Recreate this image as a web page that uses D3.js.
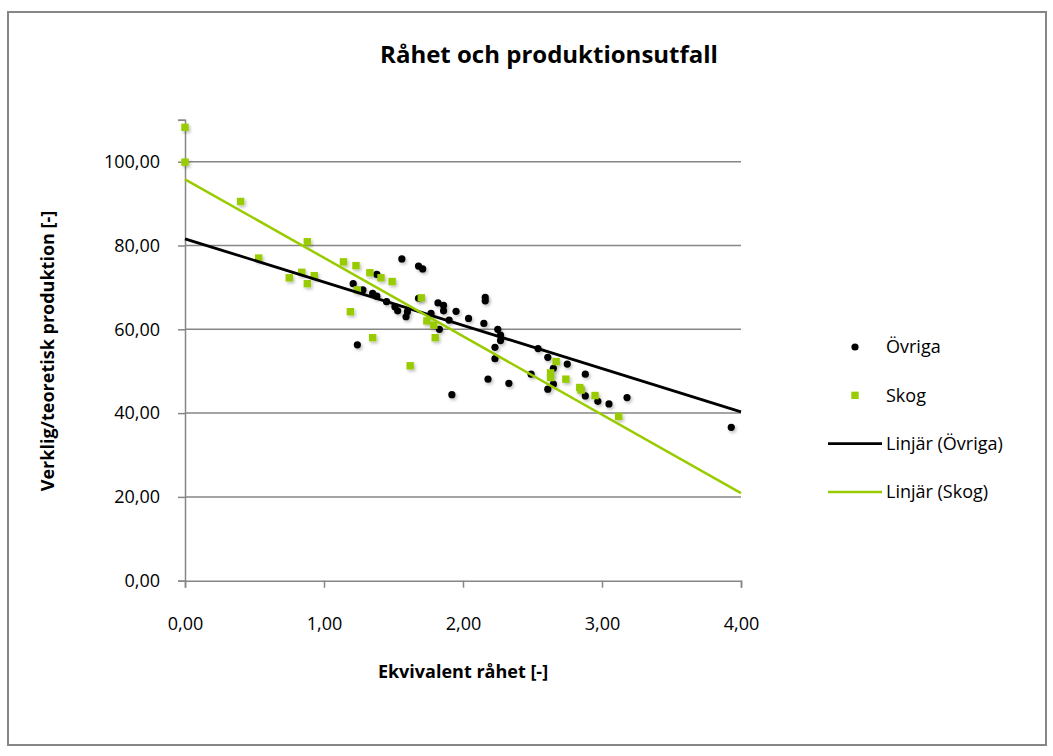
<!DOCTYPE html>
<html>
<head>
<meta charset="utf-8">
<script src="https://cdn.jsdelivr.net/npm/d3@7"></script>
<style>
  body { margin: 0; background: #fff; }
  text { font-family: "Open Sans", sans-serif; fill: #000; }
</style>
</head>
<body>
<div class="chart"></div>
<script>
// Skog (green squares)
var skogX = [0.00, 0.00, 0.40, 0.88, 0.53, 0.75, 0.84, 0.88, 0.93, 1.14, 1.23, 1.33, 1.41, 1.49, 1.24,
             1.19, 1.35, 1.70, 1.74, 1.79, 1.80, 1.62, 2.67, 2.63, 2.63, 2.74, 2.84, 2.85, 2.95, 3.12];
var skogY = [108.2, 99.9, 90.5, 80.9, 77.0, 72.3, 73.6, 70.9, 72.8, 76.1, 75.2, 73.5, 72.3, 71.4, 69.4,
             64.2, 58.0, 67.5, 62.0, 61.0, 58.0, 51.3, 52.3, 49.6, 48.5, 48.1, 46.1, 45.5, 44.2, 39.2];

// Övriga (black dots)
var ovrigaX = [1.21, 1.28, 1.35, 1.38, 1.45, 1.51, 1.53, 1.59, 1.60, 1.68, 1.56, 1.68, 1.71, 1.38, 1.24,
               1.82, 1.86, 1.86, 1.77, 1.95, 2.04, 1.90, 1.83, 2.15, 2.16, 2.16, 2.25, 2.27, 2.27, 2.23,
               2.23, 2.18, 2.33, 1.92, 2.49, 2.54, 2.61, 2.75, 2.65, 2.61, 2.65, 2.88, 2.88, 2.97, 3.05,
               3.18, 3.93];
var ovrigaY = [70.9, 69.4, 68.6, 67.9, 66.6, 65.4, 64.4, 63.0, 64.2, 67.4, 76.8, 75.1, 74.4, 73.1, 56.3,
               66.3, 65.7, 64.4, 63.8, 64.3, 62.6, 62.2, 60.0, 61.4, 67.6, 66.8, 60.0, 58.6, 57.3, 55.7,
               53.0, 48.1, 47.1, 44.4, 49.3, 55.4, 53.3, 51.7, 50.7, 45.7, 46.9, 49.3, 44.1, 42.8, 42.2,
               43.7, 36.6];

// linear trend lines, at x = 0 and x = 4
var trendX = [0, 4];
var trendOvriga = [81.6, 40.3];
var trendSkog = [95.8, 20.9];

var xTicks = [0, 1, 2, 3, 4];
var yTicks = [0, 20, 40, 60, 80, 100];
var legendLabels = ["Övriga", "Skog", "Linjär (Övriga)", "Linjär (Skog)"];

var green = "#99cc00";
var grid = "#868686";

var W = 1053, H = 756;
var svg = d3.select(".chart").append("svg")
    .attr("width", W).attr("height", H);

var defs = svg.append("defs");
var f = defs.append("filter").attr("id", "shadow")
    .attr("x", "-100%").attr("y", "-100%").attr("width", "300%").attr("height", "300%");
f.append("feDropShadow").attr("dx", 1.5).attr("dy", 2).attr("stdDeviation", 1.5)
    .attr("flood-color", "#000").attr("flood-opacity", 0.25);

svg.append("rect")
    .attr("x", 8).attr("y", 12).attr("width", 1038).attr("height", 733)
    .attr("fill", "#fff").attr("stroke", grid).attr("stroke-width", 2);

var x = d3.scaleLinear().domain([0, 4]).range([185, 741]);
var y = d3.scaleLinear().domain([0, 110]).range([580.7, 119.8]);
var fmt = function(d) { return d3.format(".2f")(d).replace(".", ","); };

// gridlines
svg.append("g").selectAll("line")
    .data(yTicks.filter(function(d) { return d > 0; }))
    .enter().append("line")
    .attr("x1", x(0)).attr("x2", x(4))
    .attr("y1", function(d) { return y(d); }).attr("y2", function(d) { return y(d); })
    .attr("stroke", grid).attr("stroke-width", 1.5);

// y axis
var yAxis = d3.axisLeft(y).tickValues(yTicks.concat([110])).tickSize(7).tickPadding(18)
    .tickFormat(function(d) { return d === 110 ? "" : fmt(d); });
var gy = svg.append("g").attr("transform", "translate(" + x(0) + ",0)").call(yAxis);

// x axis
var xAxis = d3.axisBottom(x).tickValues(xTicks).tickSize(7).tickPadding(30).tickFormat(fmt);
var gx = svg.append("g").attr("transform", "translate(0," + y(0) + ")").call(xAxis);

[gx, gy].forEach(function(g) {
  g.selectAll("path").attr("stroke", grid).attr("stroke-width", 1.5);
  g.selectAll("line").attr("stroke", grid).attr("stroke-width", 1.5);
  g.selectAll("text").style("font-size", "18px").attr("fill", "#000");
});

// points
svg.append("g").selectAll("circle")
    .data(ovrigaX.map(function(v, i) { return [v, ovrigaY[i]]; }))
    .enter().append("circle")
    .attr("cx", function(d) { return x(d[0]); })
    .attr("cy", function(d) { return y(d[1]); })
    .attr("r", 3.6).attr("fill", "#000").attr("filter", "url(#shadow)");

svg.append("g").selectAll("rect")
    .data(skogX.map(function(v, i) { return [v, skogY[i]]; }))
    .enter().append("rect")
    .attr("x", function(d) { return x(d[0]) - 3.7; })
    .attr("y", function(d) { return y(d[1]) - 3.7; })
    .attr("width", 7.4).attr("height", 7.4).attr("fill", green).attr("filter", "url(#shadow)");

var line = d3.line().x(function(d) { return x(d[0]); }).y(function(d) { return y(d[1]); });
svg.append("path").datum(trendX.map(function(v, i) { return [v, trendOvriga[i]]; }))
    .attr("d", line).attr("stroke", "#000").attr("stroke-width", 2.8).attr("fill", "none");
svg.append("path").datum(trendX.map(function(v, i) { return [v, trendSkog[i]]; }))
    .attr("d", line).attr("stroke", green).attr("stroke-width", 2.5).attr("fill", "none");

// titles
svg.append("text").attr("x", 549).attr("y", 63).attr("text-anchor", "middle")
    .style("font-size", "24px").style("font-weight", "bold").text("Råhet och produktionsutfall");
svg.append("text").attr("x", 463).attr("y", 678).attr("text-anchor", "middle")
    .style("font-size", "18px").style("font-weight", "bold").text("Ekvivalent råhet [-]");
svg.append("text").attr("transform", "translate(54,351) rotate(-90)").attr("text-anchor", "middle")
    .style("font-size", "18px").style("font-weight", "bold").text("Verklig/teoretisk produktion [-]");

// legend
var ly = d3.scalePoint().domain(legendLabels).range([347, 492]);
var leg = svg.append("g");
leg.append("circle").attr("cx", 855).attr("cy", ly(legendLabels[0])).attr("r", 3.6).attr("fill", "#000");
leg.append("rect").attr("x", 855 - 3.7).attr("y", ly(legendLabels[1]) - 3.7)
    .attr("width", 7.4).attr("height", 7.4).attr("fill", green);
leg.append("line").attr("x1", 828).attr("x2", 882)
    .attr("y1", ly(legendLabels[2])).attr("y2", ly(legendLabels[2]))
    .attr("stroke", "#000").attr("stroke-width", 2.8);
leg.append("line").attr("x1", 828).attr("x2", 882)
    .attr("y1", ly(legendLabels[3])).attr("y2", ly(legendLabels[3]))
    .attr("stroke", green).attr("stroke-width", 2.5);
leg.selectAll("text").data(legendLabels).enter().append("text")
    .attr("x", 886).attr("y", function(d) { return ly(d); }).attr("dy", "0.35em")
    .style("font-size", "18px").text(function(d) { return d; });
</script>
</body>
</html>
